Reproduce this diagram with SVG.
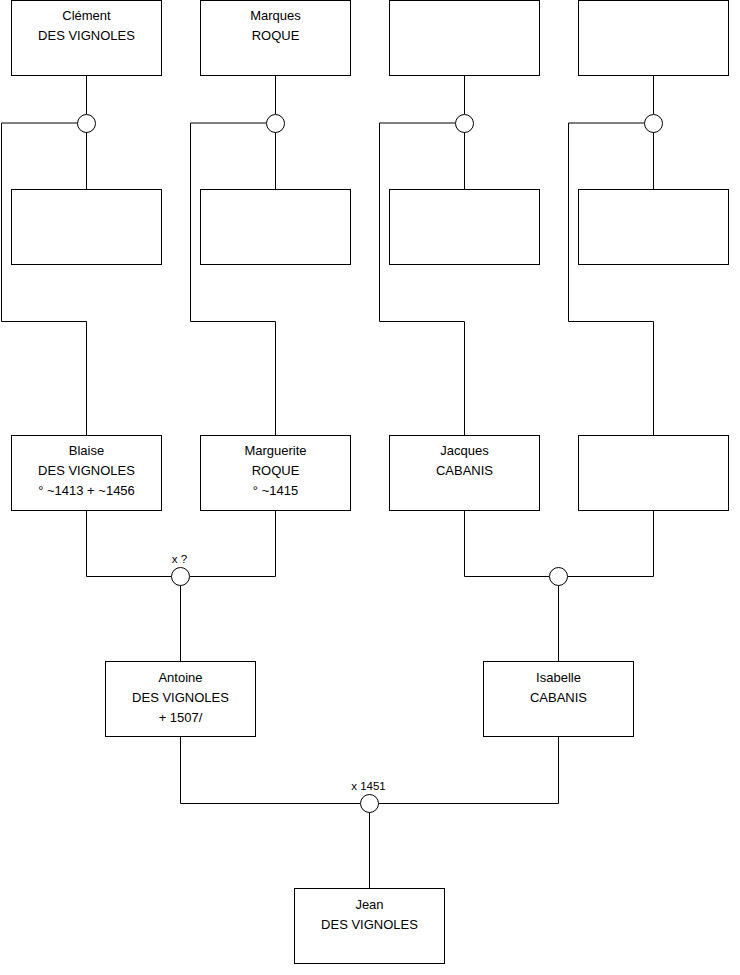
<svg xmlns="http://www.w3.org/2000/svg" width="740" height="975" viewBox="0 0 740 975">
<style>
.box{fill:#fff;stroke:#000;stroke-width:1}
.ln{fill:none;stroke:#000;stroke-width:1}
.ring{fill:#fff;stroke:#000;stroke-width:1}
text{font-family:"Liberation Sans",Arial,sans-serif;font-size:13px;fill:#000;text-anchor:middle}
.lbl{font-size:11.5px}
</style>
<rect width="740" height="975" fill="#fff"/>
<g id="connectors">
<path class="ln" d="M86.5 75.5V114M86.5 132V189.5M77.5 123H1.5V321.5H86.5V435.5"/>
<path class="ln" d="M275.5 75.5V114M275.5 132V189.5M266.5 123H190.5V321.5H275.5V435.5"/>
<path class="ln" d="M464.5 75.5V114M464.5 132V189.5M455.5 123H379.5V321.5H464.5V435.5"/>
<path class="ln" d="M653.5 75.5V114M653.5 132V189.5M644.5 123H568.5V321.5H653.5V435.5"/>
<path class="ln" d="M86.5 510.5V576.5H171.5M275.5 510.5V576.5H189.5M180.5 585.5V661.5"/>
<path class="ln" d="M464.5 510.5V576.5H549.5M653.5 510.5V576.5H567.5M558.5 585.5V661.5"/>
<path class="ln" d="M180.5 736.5V803.5H360.5M558.5 736.5V803.5H378.5M369.5 812.5V888.5"/>
<circle class="ring" cx="86.5" cy="123.5" r="9"/>
<circle class="ring" cx="275.5" cy="123.5" r="9"/>
<circle class="ring" cx="464.5" cy="123.5" r="9"/>
<circle class="ring" cx="653.5" cy="123.5" r="9"/>
<circle class="ring" cx="180.5" cy="576.5" r="9"/>
<circle class="ring" cx="558.5" cy="576.5" r="9"/>
<circle class="ring" cx="369.5" cy="803.5" r="9"/>
<text class="lbl" x="179.5" y="563">x ?</text>
<text class="lbl" x="368.5" y="790">x 1451</text>
</g>
<g id="clement"><rect class="box" x="11.5" y="0.5" width="150" height="75"/><text x="86.5" y="20">Clément</text><text x="86.5" y="40">DES VIGNOLES</text></g>
<g id="marques"><rect class="box" x="200.5" y="0.5" width="150" height="75"/><text x="275.5" y="20">Marques</text><text x="275.5" y="40">ROQUE</text></g>
<g id="top3"><rect class="box" x="389.5" y="0.5" width="150" height="75"/></g>
<g id="top4"><rect class="box" x="578.5" y="0.5" width="150" height="75"/></g>
<g id="mid1"><rect class="box" x="11.5" y="189.5" width="150" height="75"/></g>
<g id="mid2"><rect class="box" x="200.5" y="189.5" width="150" height="75"/></g>
<g id="mid3"><rect class="box" x="389.5" y="189.5" width="150" height="75"/></g>
<g id="mid4"><rect class="box" x="578.5" y="189.5" width="150" height="75"/></g>
<g id="blaise"><rect class="box" x="11.5" y="435.5" width="150" height="75"/><text x="86.5" y="455">Blaise</text><text x="86.5" y="475">DES VIGNOLES</text><text x="86.5" y="495">° ~1413 + ~1456</text></g>
<g id="marguerite"><rect class="box" x="200.5" y="435.5" width="150" height="75"/><text x="275.5" y="455">Marguerite</text><text x="275.5" y="475">ROQUE</text><text x="275.5" y="495">° ~1415</text></g>
<g id="jacques"><rect class="box" x="389.5" y="435.5" width="150" height="75"/><text x="464.5" y="455">Jacques</text><text x="464.5" y="475">CABANIS</text></g>
<g id="gp4"><rect class="box" x="578.5" y="435.5" width="150" height="75"/></g>
<g id="antoine"><rect class="box" x="105.5" y="661.5" width="150" height="75"/><text x="180.5" y="682">Antoine</text><text x="180.5" y="702">DES VIGNOLES</text><text x="180.5" y="722">+ 1507/</text></g>
<g id="isabelle"><rect class="box" x="483.5" y="661.5" width="150" height="75"/><text x="558.5" y="682">Isabelle</text><text x="558.5" y="702">CABANIS</text></g>
<g id="jean"><rect class="box" x="294.5" y="888.5" width="150" height="75"/><text x="369.5" y="909">Jean</text><text x="369.5" y="929">DES VIGNOLES</text></g>
</svg>
